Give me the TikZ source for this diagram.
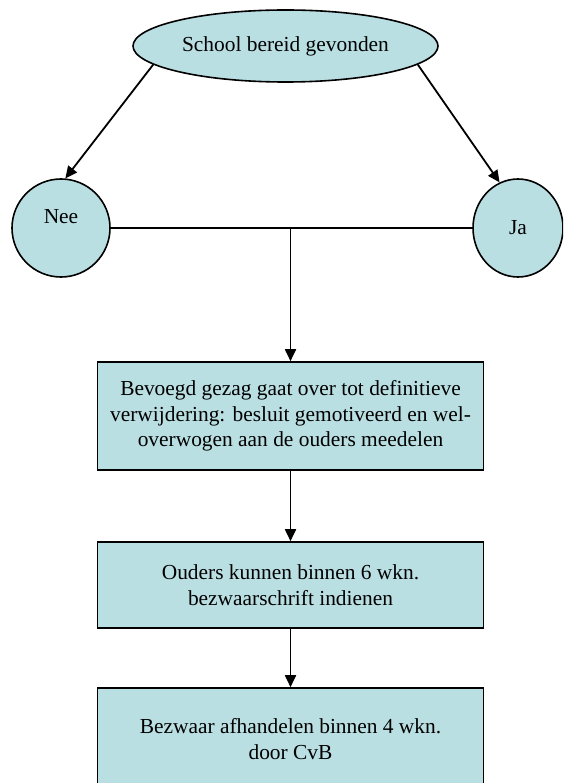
\documentclass[tikz,border=0pt]{standalone}
\usepackage{fontspec}
\setmainfont{Liberation Serif}
\usetikzlibrary{shapes.geometric,arrows.meta}
\definecolor{lichtblauw}{RGB}{186,223,227}

\begin{document}
\begin{tikzpicture}[x=1pt,y=-1pt]
            \tikzset{
                tekst/.style={font=\fontsize{21.4}{25.5}\selectfont,align=center,inner sep=0pt},
                blok/.style={tekst,draw,line width=1.6pt,fill=lichtblauw,rectangle,minimum width=386pt},
                rondje/.style={draw,line width=1.6pt,fill=lichtblauw,ellipse,inner sep=0pt},
                pijl/.style={line width=1.8pt,-{Triangle[length=12pt,width=11pt]}},
                lijn/.style={line width=1.8pt}}
            \clip (0,0) rectangle (563,783);
            \node[rondje,tekst,minimum width=305pt,minimum height=72pt] (school) at (285.5,46) {School bereid gevonden};
            \node[rondje,minimum width=98pt,minimum height=98pt] (nee) at (61,228) {};
            \node[rondje,minimum width=90pt,minimum height=98pt] (ja) at (518,228) {};
            \node[tekst] (neetekst) at (61,217) {Nee};
            \node[tekst] (jatekst) at (518,228) {Ja};
            \draw[pijl] (school.188) -- (nee.85);
            \draw[pijl] (school.352) -- (ja.112);
            \draw[lijn] (nee.east) -- (ja.west);
            \coordinate (splits) at (290.5,228);
            % de drie stappen
            \node[blok,minimum height=108pt] (besluit) at (290.5,416) {Bevoegd gezag gaat over tot definitieve\\ verwijdering: besluit gemotiveerd en wel-\\ overwogen aan de ouders meedelen};
            \node[blok,minimum height=86pt] (bezwaar) at (290.5,585) {Ouders kunnen binnen 6 wkn.\\ bezwaarschrift indienen};
            \node[blok,minimum height=102pt] (afhandelen) at (290.5,739) {Bezwaar afhandelen binnen 4 wkn.\\ door CvB};
            \draw[pijl] (splits) -- (besluit.north);
            \draw[pijl] (besluit) -- (bezwaar);
            \draw[pijl] (bezwaar) -- (afhandelen);
        \end{tikzpicture}
\end{document}
